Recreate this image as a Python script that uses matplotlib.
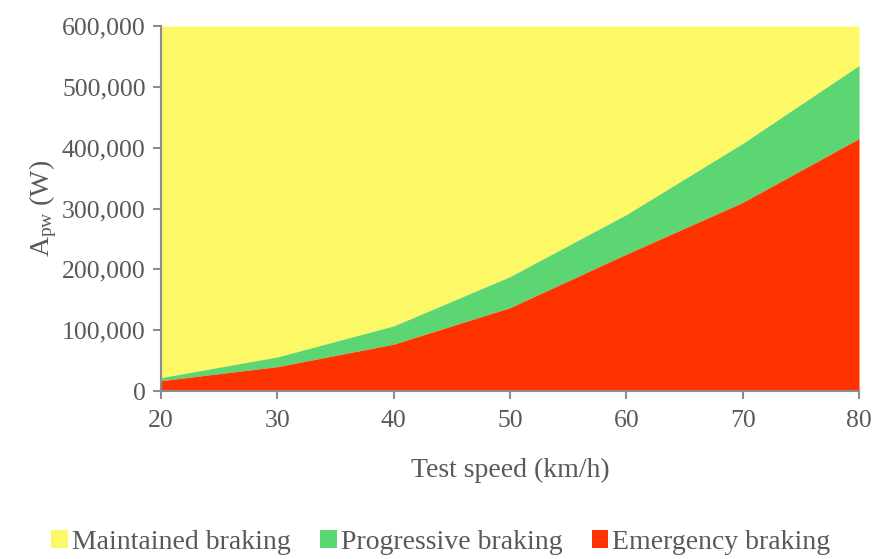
import matplotlib
matplotlib.use("Agg")
import matplotlib.pyplot as plt
import numpy as np
from matplotlib.ticker import FuncFormatter

# test speed (km/h)
speed = [20, 30, 40, 50, 60, 70, 80]
# emergency braking power (W)
emergency = [17000, 40000, 77000, 137000, 225000, 310000, 415000]
# progressive braking (cumulative top, W)
progressive = [22000, 56000, 107000, 188000, 290000, 407000, 535000]
# maintained braking reaches above the axis top
maintained = [600000, 600000, 600000, 600000, 600000, 600000, 600000]

labels = ["Maintained braking", "Progressive braking", "Emergency braking"]
colors = ["#FDF865", "#5BD672", "#FF3300"]

plt.rcParams["font.family"] = ["Liberation Serif", "DejaVu Serif"]
plt.rcParams["mathtext.fontset"] = "custom"
plt.rcParams["mathtext.rm"] = "Liberation Serif"
plt.rcParams["mathtext.it"] = "Liberation Serif"
txt = "#595959"
axc = "#8C8C8C"

fig = plt.figure(figsize=(8.73, 5.59), dpi=100)
ax = fig.add_axes([0.1844, 0.3005, 0.7996, 0.653])

ax.fill_between(speed, progressive, maintained, color=colors[0], lw=0, label=labels[0])
ax.fill_between(speed, emergency, progressive, color=colors[1], lw=0, label=labels[1])
ax.fill_between(speed, 0, emergency, color=colors[2], lw=0, label=labels[2])

ax.set_xlim(20, 80)
ax.set_ylim(0, 600000)
ax.set_xticks(speed)
ax.set_yticks(np.arange(0, 600001, 100000))
ax.yaxis.set_major_formatter(FuncFormatter(lambda v, p: f"{int(v):,}"))

for s in ["top", "right"]:
    ax.spines[s].set_visible(False)
for s in ["left", "bottom"]:
    ax.spines[s].set_color(axc)
    ax.spines[s].set_linewidth(1.5)
ax.tick_params(colors=axc, labelcolor=txt, labelsize=18.5, width=1.5, length=6)
ax.tick_params(axis="x", pad=8)
ax.tick_params(axis="y", pad=5)

ax.set_xlabel("Test speed (km/h)", fontsize=20, color=txt, labelpad=18)
ax.set_ylabel(r"$\mathregular{A_{pw}}$ (W)", fontsize=20, color=txt, labelpad=2)

fig.legend(loc="center", bbox_to_anchor=(0.505, 0.03), ncol=3, frameon=False,
           fontsize=20, labelcolor=txt, handlelength=0.6, handleheight=0.6,
           handletextpad=0.15, columnspacing=1.05)

fig.savefig("out.png", dpi=100)
